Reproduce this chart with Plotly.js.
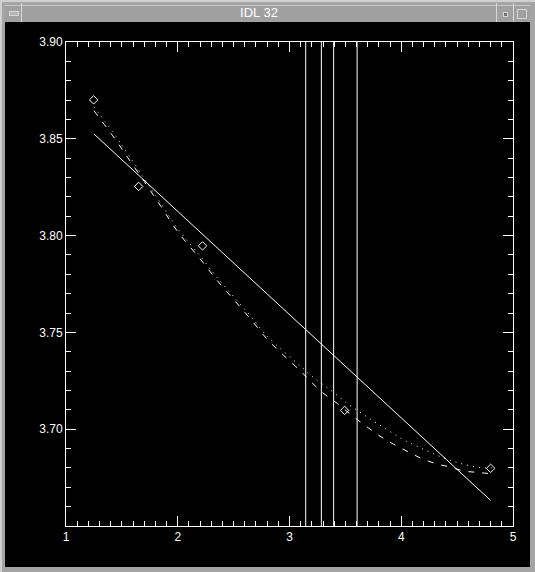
<!DOCTYPE html>
<html>
<head>
<meta charset="utf-8">
<script src="https://cdn.plot.ly/plotly-3.0.1.min.js"></script>
<style>
  html, body { margin: 0; padding: 0; background: #a4a4a4; }
  #win { position: relative; width: 535px; height: 572px; overflow: hidden; background: #a4a4a4; }
  #edge { position: absolute; left: 0; top: 0; width: 533px; height: 570px;
          border-left: 2px solid #d0d0d0; border-top: 2px solid #d0d0d0; }
  #titlebar { position: absolute; left: 5px; top: 5px; width: 525px; height: 16px; background: #a0a0a0;
              border-top: 1px solid #c8c8c8; box-sizing: border-box; }
  #titletext { position: absolute; left: 22px; right: 39px; top: 5px; text-align: center;
               font-family: "Liberation Sans", sans-serif; font-size: 13px; color: #ffffff; line-height: 16px; }
  .sep { position: absolute; top: 3px; width: 1px; height: 19px; background: #d8d8d8; }
  #minbtn { position: absolute; left: 9px; top: 11px; width: 8px; height: 3px;
            border: 1px solid #d8d8d8; background: #b4b4b4; }
  #icobtn { position: absolute; left: 503px; top: 12px; width: 3px; height: 3px;
            border: 1px solid #d8d8d8; background: #707070; }
  #maxbtn { position: absolute; left: 517px; top: 9px; width: 8px; height: 8px;
            border: 1px solid #d8d8d8; }
  #plot { position: absolute; left: 5px; top: 22px; width: 525px; height: 545px; background: #000; }
</style>
</head>
<body>
<div id="win">
  <div id="edge"></div>
  <div id="titlebar"></div>
  <div id="titletext">IDL 32</div>
  <div class="sep" style="left:21px"></div>
  <div class="sep" style="left:496px"></div>
  <div class="sep" style="left:513px"></div>
  <div id="minbtn"></div>
  <div id="icobtn"></div>
  <div id="maxbtn"></div>
  <div id="plot"></div>
</div>
<script>
// measured points (diamonds)
var obs_x = [1.247, 1.650, 2.222, 3.493, 4.800];
var obs_y = [3.8701, 3.8254, 3.7947, 3.7097, 3.6798];

// straight fit (solid)
var fit_x = [1.25, 4.80];
var fit_y = [3.8525, 3.6632];

// dotted curve
var dot_x = [1.25, 1.45, 1.55, 1.70, 1.85, 2.00, 2.20, 2.35, 2.50, 2.65, 2.80, 2.95, 3.10,
             3.21, 3.37, 3.53, 3.69, 3.85, 4.01, 4.17, 4.33, 4.50, 4.66, 4.77, 4.81];
var dot_y = [3.8665, 3.8510, 3.8425, 3.8295, 3.8165, 3.8035, 3.7895, 3.7785, 3.7685, 3.7585,
             3.7480, 3.7400, 3.7325, 3.7269, 3.7201, 3.7128, 3.7065, 3.7006, 3.6949, 3.6904,
             3.6863, 3.6828, 3.6806, 3.6799, 3.6800];

// dashed curve
var dash_x = [1.25, 1.45, 1.55, 1.70, 1.85, 2.00, 2.20, 2.35, 2.50, 2.65, 2.80, 2.95, 3.10,
              3.18, 3.30, 3.43, 3.55, 3.68, 3.80, 3.93, 4.06, 4.18, 4.31, 4.44, 4.56, 4.68, 4.80];
var dash_y = [3.8645, 3.8490, 3.8405, 3.8280, 3.8150, 3.8020, 3.7880, 3.7770, 3.7670, 3.7570,
              3.7465, 3.7380, 3.7300, 3.7252, 3.7187, 3.7132, 3.7075, 3.7018, 3.6968, 3.6923,
              3.6884, 3.6849, 3.6822, 3.6804, 3.6784, 3.6777, 3.6770];

// vertical markers
var vlines = [3.145, 3.285, 3.395, 3.605];

// axis ticks
var x_ticks = [1, 2, 3, 4, 5];
var y_ticks = [3.70, 3.75, 3.80, 3.85, 3.90];

var config = { staticPlot: true };

var data = [
  {
    x: fit_x, y: fit_y, mode: 'lines', type: 'scatter',
    line: { color: '#ffffff', width: 1 },
  },
  {
    x: dot_x, y: dot_y, mode: 'lines', type: 'scatter',
    line: { color: '#ffffff', width: 1, dash: '1px,5px', shape: 'spline' },
  },
  {
    x: dash_x, y: dash_y, mode: 'lines', type: 'scatter',
    line: { color: '#ffffff', width: 1, dash: '6px,8px', shape: 'spline' },
  },
  {
    x: obs_x, y: obs_y, mode: 'markers', type: 'scatter',
    marker: { symbol: 'diamond-open', size: 6.5, color: '#ffffff', line: { width: 1, color: '#ffffff' } },
  },
];

var axis_common = {
  showgrid: false,
  zeroline: false,
  showline: true,
  linecolor: '#ffffff',
  linewidth: 1,
  mirror: 'allticks',
  ticks: 'inside',
  ticklen: 10,
  tickwidth: 1,
  tickcolor: '#ffffff',
  tickfont: { family: 'Liberation Sans, sans-serif', size: 12, color: '#ffffff' },
};

var layout = {
  width: 525,
  height: 545,
  margin: { l: 61, r: 17, t: 20, b: 41 },
  paper_bgcolor: '#000000',
  plot_bgcolor: '#000000',
  showlegend: false,
  xaxis: Object.assign({}, axis_common, {
    range: [1, 5],
    tickvals: x_ticks,
    ticktext: x_ticks.map(String),
    minor: { dtick: 0.1, ticks: 'inside', ticklen: 5, tickcolor: '#ffffff', tickwidth: 1 },
  }),
  yaxis: Object.assign({}, axis_common, {
    range: [3.65, 3.90],
    tickvals: y_ticks,
    ticktext: y_ticks.map((v) => v.toFixed(2)),
    minor: { dtick: 0.01, ticks: 'inside', ticklen: 5, tickcolor: '#ffffff', tickwidth: 1 },
  }),
  shapes: vlines.map((v) => ({
    type: 'line', xref: 'x', yref: 'paper', x0: v, x1: v, y0: 0, y1: 1,
    line: { color: '#ffffff', width: 1 },
  })),
};

Plotly.newPlot('plot', data, layout, config);
</script>
</body>
</html>
